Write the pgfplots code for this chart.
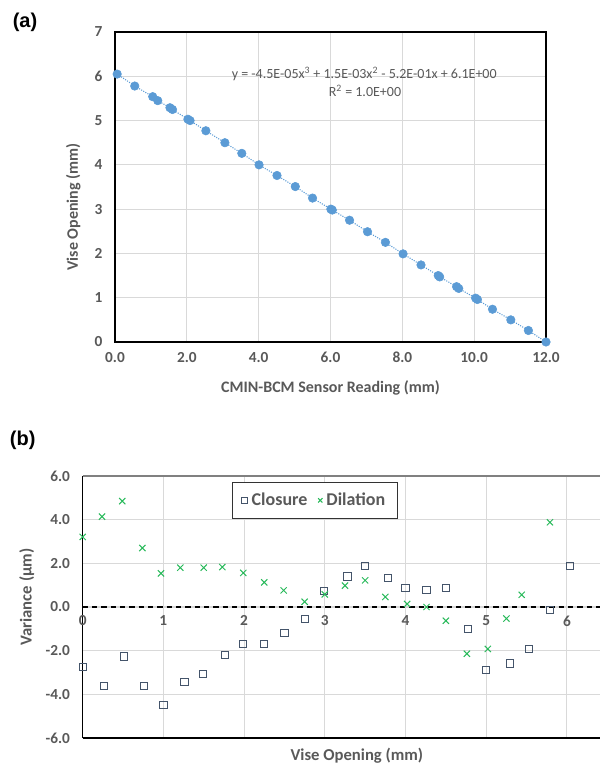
\documentclass[border=0pt]{standalone}
\usepackage{fontspec}
\setmainfont{Carlito}
\newfontfamily\arialfont{Liberation Sans}
\usepackage{pgfplots}
\usepackage{pgfplotstable}
\pgfplotsset{compat=1.18}

\definecolor{txtgray}{RGB}{89,89,89}
\definecolor{gridgray}{RGB}{217,217,217}
\definecolor{ptblue}{RGB}{91,155,213}
\definecolor{clos}{RGB}{68,84,106}
\definecolor{dil}{RGB}{40,185,90}

% (a) calibration points
\pgfplotstableread{
x y
0.06 6.05
0.55 5.78
1.05 5.54
1.19 5.45
1.53 5.29
1.60 5.25
2.03 5.03
2.09 5.00
2.53 4.77
3.06 4.50
3.53 4.26
4.01 4.00
4.51 3.76
5.02 3.51
5.50 3.25
6.01 3.00
6.05 2.98
6.53 2.75
7.03 2.49
7.53 2.25
8.02 1.99
8.52 1.74
9.00 1.50
9.04 1.47
9.51 1.25
9.57 1.21
10.04 0.99
10.09 0.96
10.51 0.74
11.02 0.50
11.51 0.26
12.00 0.00
}\calib

% (b) closure
\pgfplotstableread{
x y
0.00 -2.76
0.26 -3.63
0.51 -2.26
0.76 -3.62
1.00 -4.50
1.26 -3.44
1.49 -3.05
1.76 -2.18
1.99 -1.68
2.25 -1.68
2.50 -1.18
2.75 -0.53
2.99 0.73
3.28 1.40
3.50 1.88
3.78 1.33
4.00 0.87
4.26 0.78
4.50 0.87
4.77 -1.01
5.00 -2.89
5.29 -2.58
5.53 -1.92
5.79 -0.14
6.04 1.88
}\closure

% (b) dilation
\pgfplotstableread{
x y
0.00 3.21
0.24 4.14
0.49 4.85
0.74 2.70
0.97 1.54
1.21 1.80
1.50 1.80
1.73 1.83
1.99 1.56
2.25 1.13
2.49 0.76
2.75 0.24
3.00 0.58
3.25 0.98
3.50 1.22
3.75 0.46
4.02 0.14
4.26 0.00
4.50 -0.63
4.76 -2.14
5.02 -1.92
5.25 -0.53
5.44 0.56
5.79 3.88
}\dilation

\begin{document}
\begin{tikzpicture}
\useasboundingbox (0,0) rectangle (450pt,-574.5pt);

\node[font=\arialfont\bfseries\fontsize{15}{18}\selectfont] at (18.75pt,-16.5pt) {(a)};
\node[font=\arialfont\bfseries\fontsize{15}{18}\selectfont] at (17pt,-330pt) {(b)};

% ---- panel (a)
\begin{axis}[
    at={(86.25pt,-256.5pt)}, anchor=south west,
    scale only axis, width=323.25pt, height=232.5pt,
    xmin=0, xmax=12, ymin=0, ymax=7,
    xtick={0,2,...,12}, ytick={0,1,...,7},
    clip=false,
    grid=major, major grid style={gridgray, line width=0.8pt},
    axis line style={black, line width=1.1pt},
    major tick length=0pt,
    /pgf/number format/assume math mode=true,
    ticklabel style={font=\bfseries\fontsize{11.5}{13}\selectfont, text=txtgray},
    xticklabel style={/pgf/number format/fixed, /pgf/number format/fixed zerofill,
        /pgf/number format/precision=1, yshift=-4pt},
    yticklabel style={xshift=-6pt},
    xlabel={CMIN-BCM Sensor Reading (mm)},
    ylabel={Vise Opening (mm)},
    label style={font=\bfseries\fontsize{12}{14}\selectfont, text=txtgray},
    xlabel style={at={(axis description cs:0.5,-0.148)}, anchor=center},
    ylabel style={at={(axis description cs:-0.097,0.435)}, anchor=center},
]
\addplot[ptblue, densely dotted, line width=0.8pt, no marks] table[x=x,y=y] {\calib};
\addplot[only marks, mark=*, mark size=3.2pt, mark options={draw=ptblue, fill=ptblue}] table[x=x,y=y] {\calib};
\node[font=\fontsize{10.5}{12}\selectfont, text=txtgray] at (axis cs:6.94,6.05)
    {y = -4.5E-05x\textsuperscript{3} + 1.5E-03x\textsuperscript{2} - 5.2E-01x + 6.1E+00};
\node[font=\fontsize{10.5}{12}\selectfont, text=txtgray] at (axis cs:6.96,5.67)
    {R\textsuperscript{2} = 1.0E+00};
\end{axis}

% ---- panel (b)
\begin{axis}[
    at={(62pt,-553.5pt)}, anchor=south west,
    scale only axis, width=388pt, height=196.5pt,
    xmin=0, xmax=6.41, ymin=-6, ymax=6,
    xtick={0,1,...,6}, ytick={-6,-4,...,6},
    clip=false,
    axis x line*=middle, axis y line*=left,
    x axis line style={black, dash pattern=on 4pt off 3pt, line width=1.1pt},
    y axis line style={black, line width=1.1pt},
    hide obscured x ticks=false, hide obscured y ticks=false,
    grid=major, major grid style={gridgray, line width=0.8pt},
    major tick length=0pt,
    /pgf/number format/assume math mode=true,
    ticklabel style={font=\bfseries\fontsize{11.5}{13}\selectfont, text=txtgray},
    yticklabel style={/pgf/number format/fixed, /pgf/number format/fixed zerofill,
        /pgf/number format/precision=1, xshift=-6pt},
    xticklabel style={yshift=-3pt},
    xlabel={Vise Opening (mm)},
    ylabel={Variance (µm)},
    label style={font=\bfseries\fontsize{12.5}{14}\selectfont, text=txtgray},
    xlabel style={at={(axis description cs:0.53,-0.069)}, anchor=center},
    ylabel style={at={(axis description cs:-0.108,0.538)}, anchor=center, rotate=0},
    legend columns=2,
    legend style={at={(0.288,0.978)}, anchor=north west, draw=black!80, line width=0.9pt,
        font=\bfseries\fontsize{13.5}{16}\selectfont, text=txtgray,
        inner xsep=7pt, inner ysep=6pt,
        /tikz/every odd column/.append style={column sep=1pt},
        /tikz/every even column/.append style={column sep=6pt}},
    legend image post style={mark size=2.3pt},
    legend cell align=left,
]
\addplot[only marks, mark=square, mark size=2.7pt, mark options={draw=clos, line width=0.65pt}] table[x=x,y=y] {\closure};
\addlegendentry{Closure}
\addplot[only marks, mark=x, mark size=3.3pt, mark options={draw=dil, line width=0.75pt}] table[x=x,y=y] {\dilation};
\addlegendentry{Dilation}
\draw[black, line width=1.1pt] (rel axis cs:0,0) -- (rel axis cs:1,0);
\draw[black!50, line width=1.1pt] (rel axis cs:0,1) -- (rel axis cs:1,1);
\end{axis}
\end{tikzpicture}
\end{document}
